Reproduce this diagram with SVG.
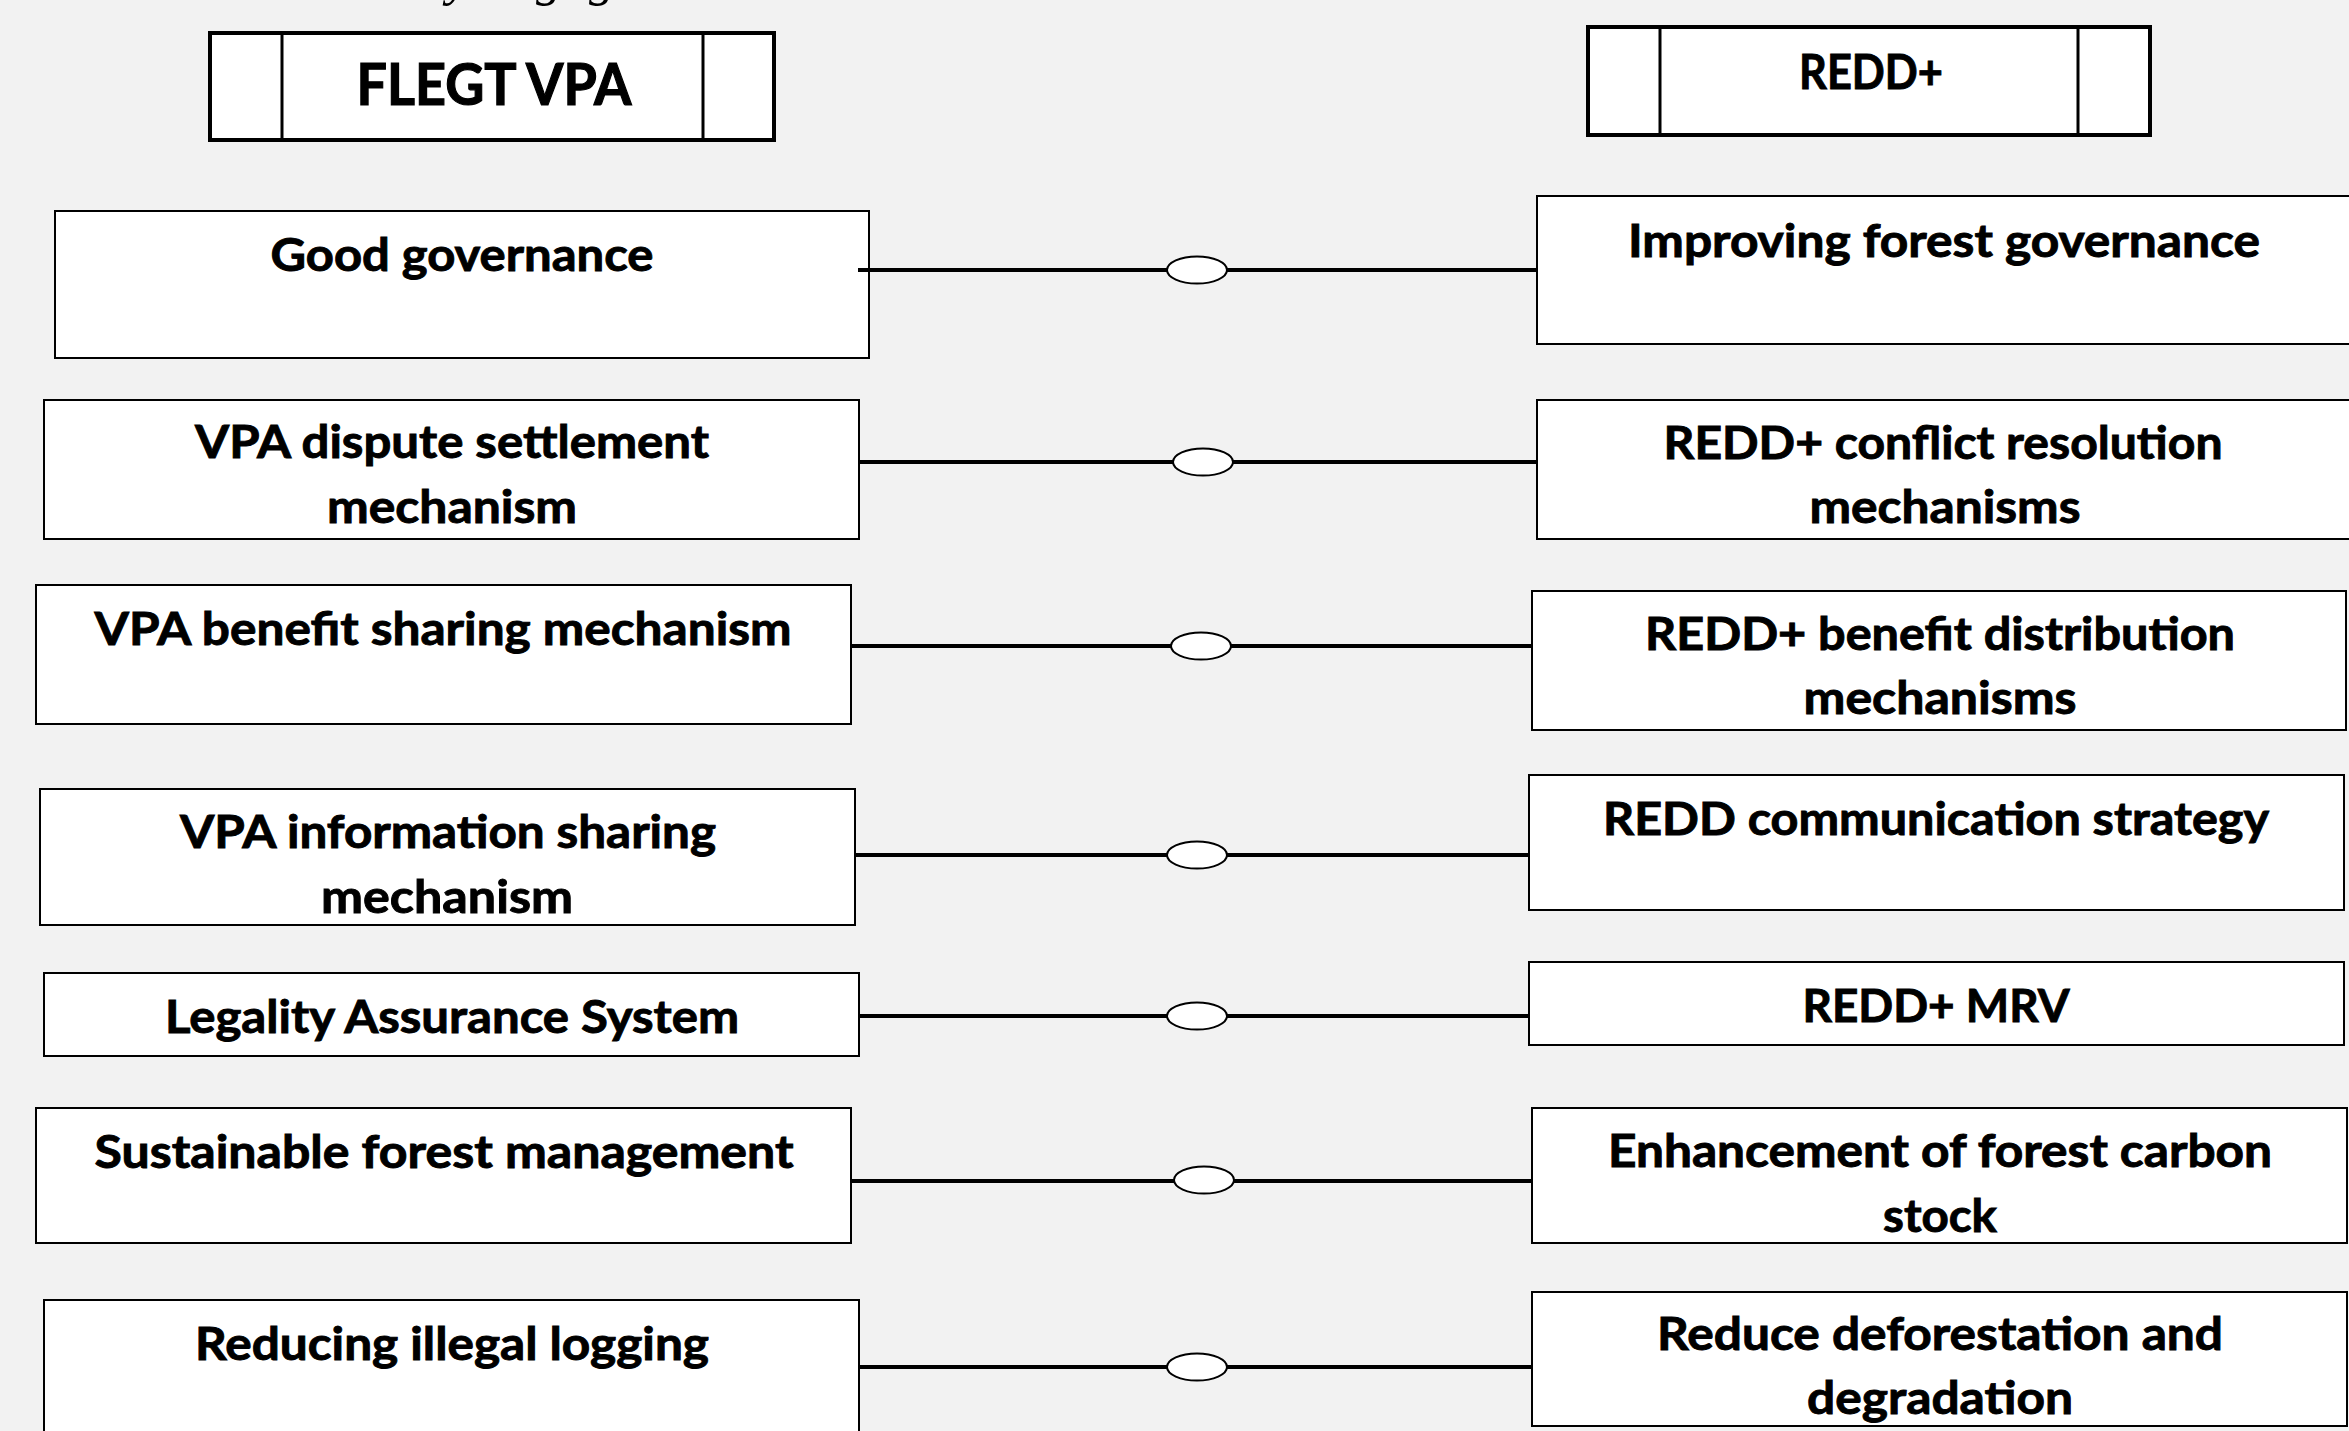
<svg xmlns="http://www.w3.org/2000/svg" width="2349" height="1431" viewBox="0 0 2349 1431">
<style>
.bg{fill:#f2f2f2}
.box{fill:#ffffff;stroke:#000000;stroke-width:2}
.hdr{fill:#ffffff;stroke:#000000;stroke-width:4}
.div{stroke:#000000;stroke-width:3}
.t{font-family:Lato,"Open Sans","Liberation Sans",sans-serif;font-weight:700;font-size:46px;fill:#000000;stroke:#000000;stroke-width:0.9;text-anchor:middle}
.h{font-size:57px;stroke-width:1.2}
.h2{font-size:47px}
.ln{stroke:#000000;stroke-width:4;fill:none}
.ov{fill:#ffffff;stroke:#000000;stroke-width:2}
.cap{font-family:"Liberation Serif","Times New Roman",serif;font-style:italic;font-size:52px;fill:#000000}
</style>
<rect class="bg" x="0" y="0" width="2349" height="1431"/>
<text class="cap" x="447 476 490 505 536 589" y="-5">y logg</text>

<g id="hdr-flegt">
<rect class="hdr" x="210" y="33" width="564" height="107"/>
<line class="div" x1="282" y1="33" x2="282" y2="140"/>
<line class="div" x1="703" y1="33" x2="703" y2="140"/>
<text class="t h" x="494" y="105" textLength="275" lengthAdjust="spacingAndGlyphs">FLEGT VPA</text>
</g>
<g id="hdr-redd">
<rect class="hdr" x="1588" y="27" width="562" height="108"/>
<line class="div" x1="1660" y1="27" x2="1660" y2="135"/>
<line class="div" x1="2078" y1="27" x2="2078" y2="135"/>
<text class="t h2" x="1871" y="89" textLength="144" lengthAdjust="spacingAndGlyphs">REDD+</text>
</g>

<g id="L1"><rect class="box" x="55" y="211" width="814" height="147"/>
<text class="t" x="462" y="271" textLength="383" lengthAdjust="spacingAndGlyphs">Good governance</text></g>
<g id="L2"><rect class="box" x="44" y="400" width="815" height="139"/>
<text class="t" x="452" y="458" textLength="514" lengthAdjust="spacingAndGlyphs">VPA dispute settlement</text>
<text class="t" x="452" y="523" textLength="250" lengthAdjust="spacingAndGlyphs">mechanism</text></g>
<g id="L3"><rect class="box" x="36" y="585" width="815" height="139"/>
<text class="t" x="443" y="645" textLength="697" lengthAdjust="spacingAndGlyphs">VPA benefit sharing mechanism</text></g>
<g id="L4"><rect class="box" x="40" y="789" width="815" height="136"/>
<text class="t" x="448" y="848" textLength="536" lengthAdjust="spacingAndGlyphs">VPA information sharing</text>
<text class="t" x="447" y="913" textLength="252" lengthAdjust="spacingAndGlyphs">mechanism</text></g>
<g id="L5"><rect class="box" x="44" y="973" width="815" height="83"/>
<text class="t" x="452" y="1033" textLength="574" lengthAdjust="spacingAndGlyphs">Legality Assurance System</text></g>
<g id="L6"><rect class="box" x="36" y="1108" width="815" height="135"/>
<text class="t" x="444" y="1168" textLength="699" lengthAdjust="spacingAndGlyphs">Sustainable forest management</text></g>
<g id="L7"><rect class="box" x="44" y="1300" width="815" height="150"/>
<text class="t" x="452" y="1360" textLength="514" lengthAdjust="spacingAndGlyphs">Reducing illegal logging</text></g>

<g id="R1"><rect class="box" x="1537" y="196" width="830" height="148"/>
<text class="t" x="1944" y="257" textLength="632" lengthAdjust="spacingAndGlyphs">Improving forest governance</text></g>
<g id="R2"><rect class="box" x="1537" y="400" width="830" height="139"/>
<text class="t" x="1943" y="459" textLength="559" lengthAdjust="spacingAndGlyphs">REDD+ conflict resolution</text>
<text class="t" x="1945" y="523" textLength="271" lengthAdjust="spacingAndGlyphs">mechanisms</text></g>
<g id="R3"><rect class="box" x="1532" y="591" width="814" height="139"/>
<text class="t" x="1940" y="650" textLength="590" lengthAdjust="spacingAndGlyphs">REDD+ benefit distribution</text>
<text class="t" x="1940" y="714" textLength="273" lengthAdjust="spacingAndGlyphs">mechanisms</text></g>
<g id="R4"><rect class="box" x="1529" y="775" width="815" height="135"/>
<text class="t" x="1936" y="835" textLength="666" lengthAdjust="spacingAndGlyphs">REDD communication strategy</text></g>
<g id="R5"><rect class="box" x="1529" y="962" width="815" height="83"/>
<text class="t" x="1936" y="1022" textLength="267" lengthAdjust="spacingAndGlyphs">REDD+ MRV</text></g>
<g id="R6"><rect class="box" x="1532" y="1108" width="815" height="135"/>
<text class="t" x="1940" y="1167" textLength="664" lengthAdjust="spacingAndGlyphs">Enhancement of forest carbon</text>
<text class="t" x="1940" y="1232" textLength="114" lengthAdjust="spacingAndGlyphs">stock</text></g>
<g id="R7"><rect class="box" x="1532" y="1292" width="815" height="134"/>
<text class="t" x="1940" y="1350" textLength="566" lengthAdjust="spacingAndGlyphs">Reduce deforestation and</text>
<text class="t" x="1940" y="1414" textLength="266" lengthAdjust="spacingAndGlyphs">degradation</text></g>

<g id="connectors">
<line class="ln" x1="858" y1="270" x2="1537" y2="270"/><ellipse class="ov" cx="1197" cy="270" rx="30" ry="13.5"/>
<line class="ln" x1="859" y1="462" x2="1537" y2="462"/><ellipse class="ov" cx="1203" cy="462" rx="30" ry="13.5"/>
<line class="ln" x1="851" y1="646" x2="1532" y2="646"/><ellipse class="ov" cx="1201" cy="646" rx="30" ry="13.5"/>
<line class="ln" x1="855" y1="855" x2="1529" y2="855"/><ellipse class="ov" cx="1197" cy="855" rx="30" ry="13.5"/>
<line class="ln" x1="859" y1="1016" x2="1529" y2="1016"/><ellipse class="ov" cx="1197" cy="1016" rx="30" ry="13.5"/>
<line class="ln" x1="851" y1="1181" x2="1532" y2="1181"/><ellipse class="ov" cx="1204" cy="1180" rx="30" ry="13.5"/>
<line class="ln" x1="859" y1="1367" x2="1532" y2="1367"/><ellipse class="ov" cx="1197" cy="1367" rx="30" ry="13.5"/>
</g>
</svg>
